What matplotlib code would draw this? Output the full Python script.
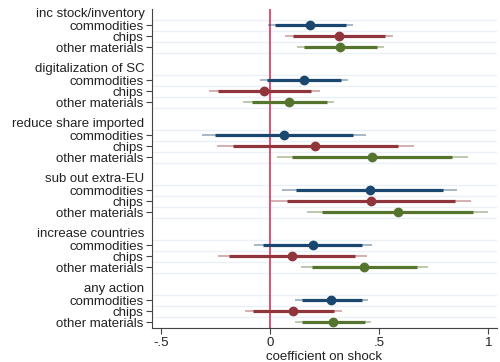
import matplotlib
matplotlib.use('Agg')
import matplotlib.pyplot as plt
import numpy as np

plt.rcParams['font.family'] = ['Liberation Sans', 'DejaVu Sans']

groups = ['inc stock/inventory', 'digitalization of SC', 'reduce share imported',
          'sub out extra-EU', 'increase countries', 'any action']
items = ['commodities', 'chips', 'other materials']
colors = ['#1a476f', '#90353b', '#55752f']

# point estimates per group: commodities, chips, other materials
point = [[0.183, 0.316, 0.322],
         [0.156, -0.026, 0.087],
         [0.065, 0.208, 0.469],
         [0.457, 0.461, 0.585],
         [0.196, 0.101, 0.432],
         [0.279, 0.107, 0.289]]
# inner (thick) interval
in_lo = [[0.023, 0.107, 0.156],
         [-0.012, -0.237, -0.084],
         [-0.252, -0.171, 0.102],
         [0.119, 0.076, 0.237],
         [-0.031, -0.186, 0.191],
         [0.145, -0.076, 0.145]]
in_hi = [[0.348, 0.527, 0.489],
         [0.325, 0.188, 0.263],
         [0.379, 0.585, 0.835],
         [0.794, 0.847, 0.928],
         [0.423, 0.389, 0.672],
         [0.420, 0.293, 0.435]]
# outer (thin) interval
out_lo = [[-0.011, 0.069, 0.125],
          [-0.046, -0.278, -0.122],
          [-0.313, -0.244, 0.034],
          [0.057, 0.003, 0.171],
          [-0.073, -0.240, 0.142],
          [0.115, -0.115, 0.115]]
out_hi = [[0.379, 0.565, 0.521],
          [0.359, 0.229, 0.295],
          [0.438, 0.658, 0.906],
          [0.858, 0.921, 0.997],
          [0.467, 0.443, 0.722],
          [0.448, 0.328, 0.461]]

fig = plt.figure(figsize=(5, 3.62), dpi=100)
ax = fig.add_axes([0.304, 0.0953, 0.69, 0.881])

ytick_pos, ytick_lab = [], []
for g, name in enumerate(groups):
    base = 5 * g
    # group header sits one slot above its first coefficient
    ax.text(-0.022, 1 - (base - 1 + 1.5) / 29.0, name, transform=ax.transAxes,
            ha='right', va='center', fontsize=9.5, color='#222222')
    for k in range(3):
        y = base + k
        c = colors[k]
        ax.plot([out_lo[g][k], out_hi[g][k]], [y, y], color=c, lw=1.1, alpha=0.5,
                solid_capstyle='butt', zorder=3)
        ax.plot([in_lo[g][k], in_hi[g][k]], [y, y], color=c, lw=2.3,
                solid_capstyle='butt', zorder=4)
        ax.plot(point[g][k], y, 'o', color=c, ms=6, zorder=5)
        ytick_pos.append(y)
        ytick_lab.append(items[k])
    for h in [-0.5, 0.5, 1.5, 2.5]:
        ax.axhline(base + h, color='#eaf0f6', lw=1.0, zorder=1)

ax.axvline(0, color='#d8345f', lw=1.2, zorder=2)

ax.set_ylim(27.5, -1.5)
ax.set_xlim(-0.541, 1.04)
ax.set_yticks(ytick_pos)
ax.set_yticklabels(ytick_lab, fontsize=9.5, color='#222222')
ax.set_xticks([-0.5, 0, 0.5, 1])
ax.set_xticklabels(['-.5', '0', '.5', '1'], fontsize=9.5, color='#222222')
ax.set_xlabel('coefficient on shock', fontsize=9.5, color='#222222', labelpad=1)
ax.tick_params(axis='y', length=4, width=0.8, color='#444444', pad=2)
ax.tick_params(axis='x', length=4, width=0.8, color='#444444', pad=3)
for s in ['top', 'right']:
    ax.spines[s].set_visible(False)
for s in ['left', 'bottom']:
    ax.spines[s].set_color('#444444')
    ax.spines[s].set_linewidth(0.8)

fig.savefig('out.png', dpi=100, facecolor='white')
